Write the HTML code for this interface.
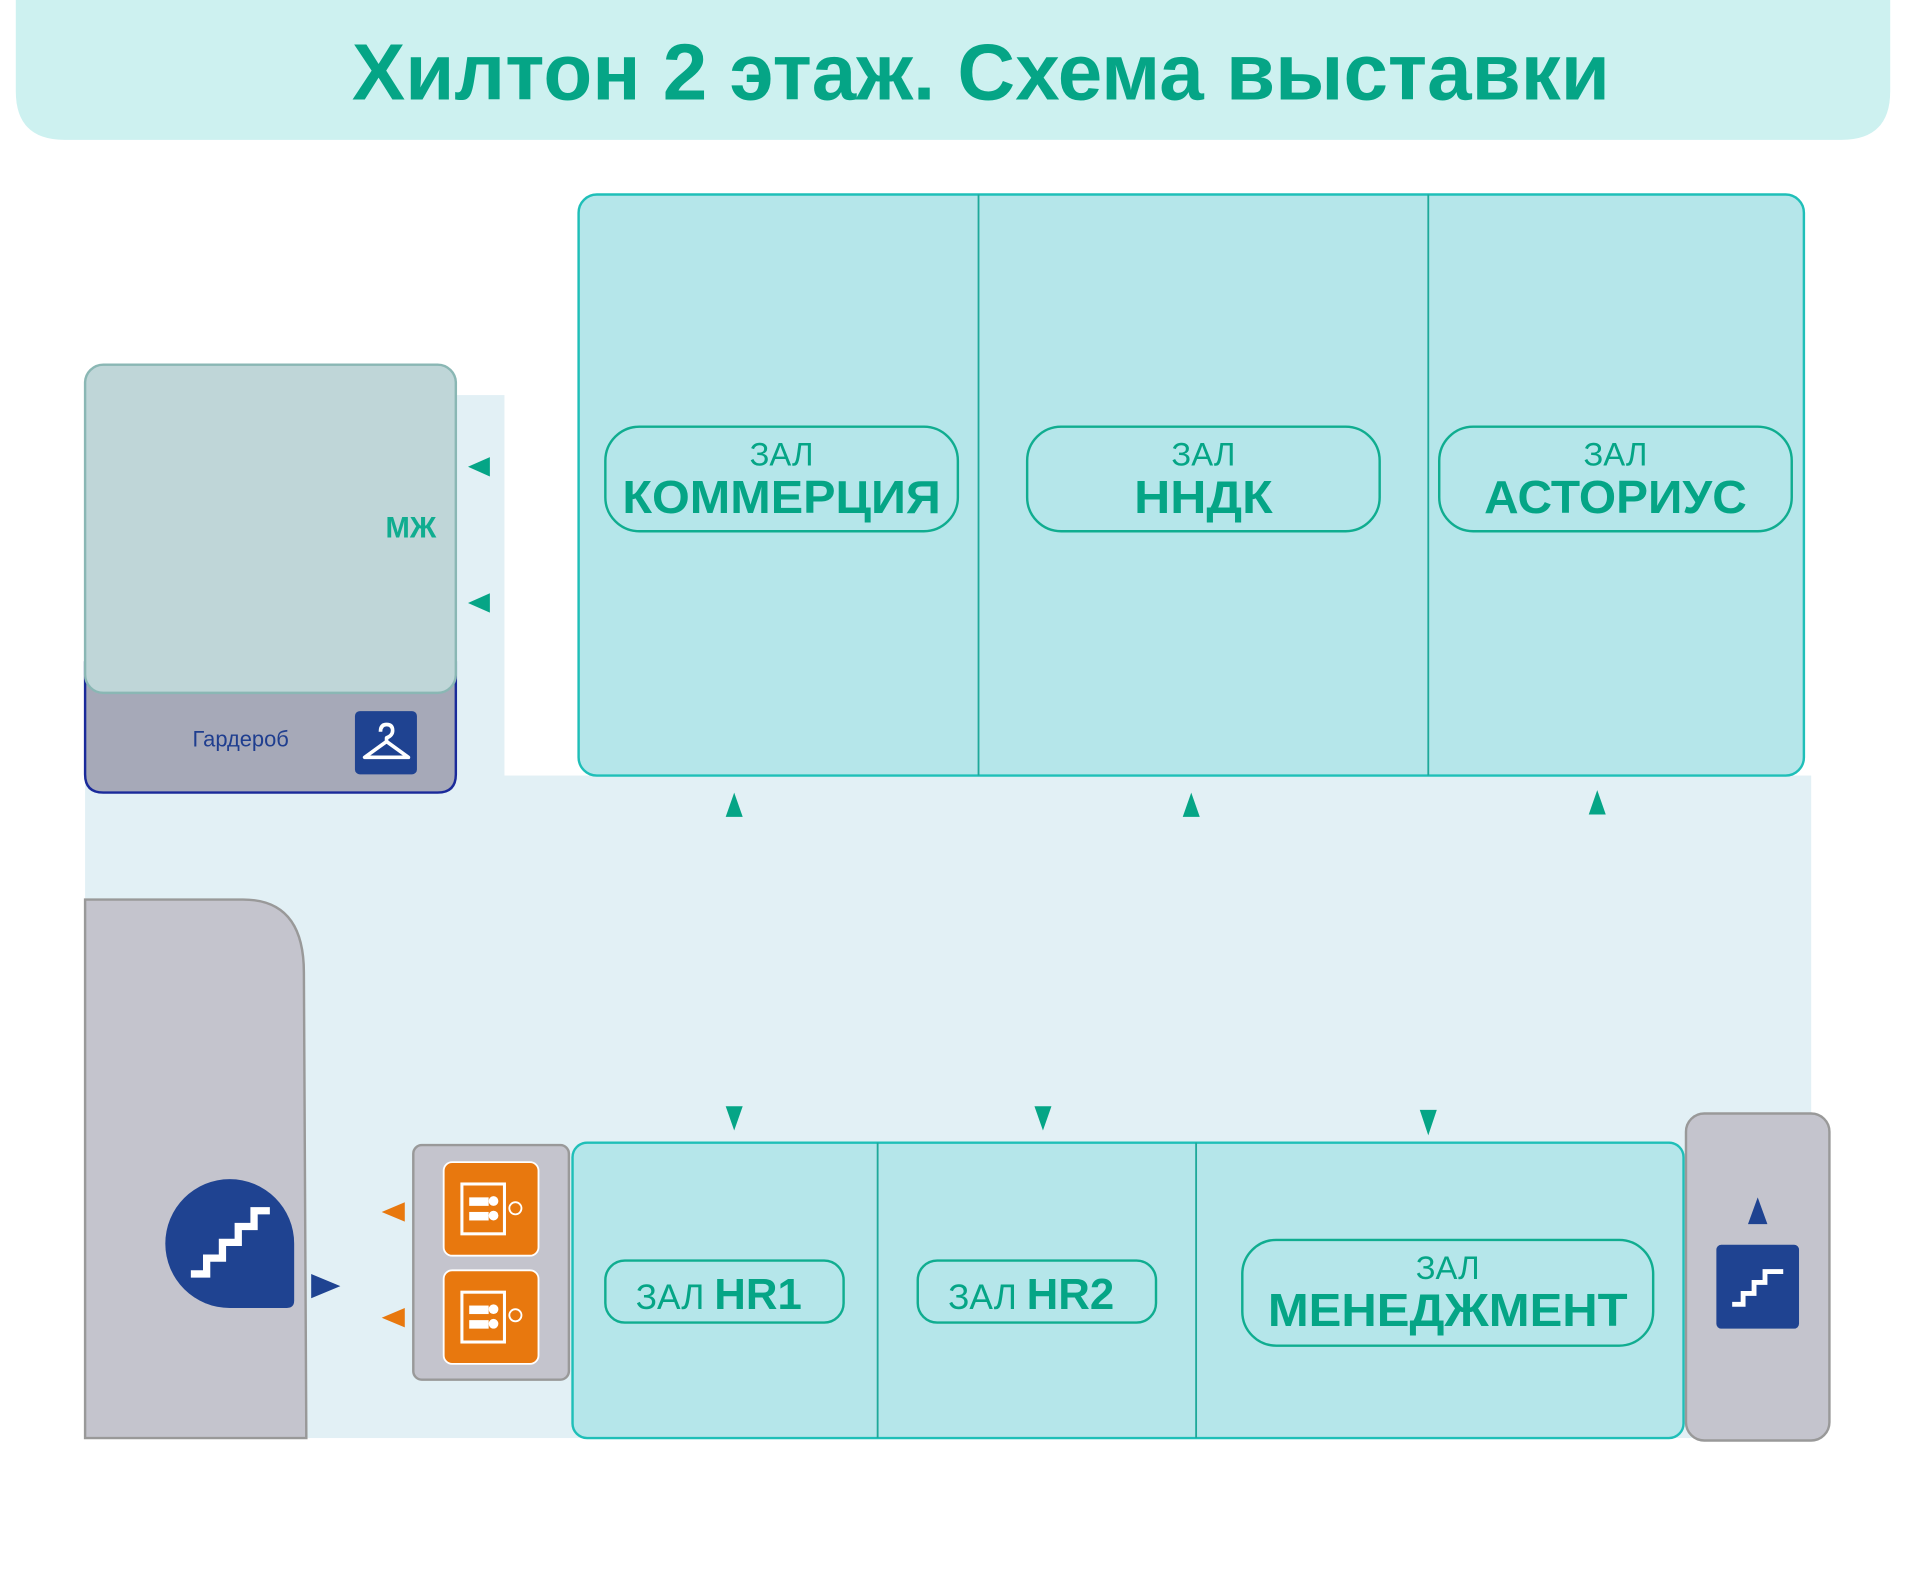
<!DOCTYPE html>
<html><head><meta charset="utf-8"><style>html,body{margin:0;padding:0;background:#fff}svg{display:block}</style></head>
<body>
<svg width="1906" height="1573" viewBox="0 0 1568 1294" xmlns="http://www.w3.org/2000/svg" font-family="'Liberation Sans', 'Noto Sans CJK SC', sans-serif">
<path d="M13,0 H1555 V75 Q1555,115 1515,115 H53 Q13,115 13,75 Z" fill="#cdf1f0"/>
<text x="807" y="82" text-anchor="middle" font-size="66" font-weight="bold" fill="#05a586" textLength="1035" lengthAdjust="spacingAndGlyphs">Хилтон 2 этаж. Схема выставки</text>
<rect x="370" y="325" width="45" height="315" fill="#e2f0f5"/>
<rect x="70" y="638" width="1420" height="545" fill="#e2f0f5"/>
<rect x="476" y="160" width="1008" height="478" rx="15" fill="#b5e6ea" stroke="#1fbfb8" stroke-width="2"/>
<line x1="805" y1="160" x2="805" y2="638" stroke="#1ea99a" stroke-width="1.5"/>
<line x1="1175" y1="160" x2="1175" y2="638" stroke="#1ea99a" stroke-width="1.5"/>
<g fill="none" stroke="#10ad90" stroke-width="2">
<rect x="498" y="351" width="290" height="86" rx="28"/>
<rect x="845" y="351" width="290" height="86" rx="28"/>
<rect x="1184" y="351" width="290" height="86" rx="28"/>
</g>
<g fill="#05a586" text-anchor="middle">
<text x="643" y="383" font-size="27">ЗАЛ</text>
<text x="643" y="422" font-size="38" font-weight="bold" textLength="262" lengthAdjust="spacingAndGlyphs">КОММЕРЦИЯ</text>
<text x="990" y="383" font-size="27">ЗАЛ</text>
<text x="990" y="422" font-size="38" font-weight="bold" textLength="114" lengthAdjust="spacingAndGlyphs">ННДК</text>
<text x="1329" y="383" font-size="27">ЗАЛ</text>
<text x="1329" y="422" font-size="38" font-weight="bold" textLength="216" lengthAdjust="spacingAndGlyphs">АСТОРИУС</text>
</g>
<path d="M70,545 H375 V637 Q375,652 360,652 H85 Q70,652 70,637 Z" fill="#a6a9b8" stroke="#1a2a9a" stroke-width="2"/>
<rect x="70" y="300" width="305" height="270" rx="15" fill="#bfd6d8" stroke="#8ab7b4" stroke-width="2"/>
<text x="338" y="442" text-anchor="middle" font-size="24" font-weight="bold" fill="#10ad90">МЖ</text>
<text x="198" y="614" text-anchor="middle" font-size="18" fill="#1f3e8f">Гардероб</text>
<rect x="292" y="585" width="51" height="52" rx="4" fill="#1f4391"/>
<path d="M313,602 Q313,596 318,596 Q323,596 323,601 Q323,605 318,607 L318,610 L300,623 L336,623 L318,610" fill="none" stroke="#fff" stroke-width="3" stroke-linejoin="round"/>
<g fill="#05a586">
<polygon points="385,384 403,376 403,392"/>
<polygon points="385,496 403,488 403,504"/>
<polygon points="604,652 597,672 611,672"/>
<polygon points="980,652 973,672 987,672"/>
<polygon points="1314,650 1307,670 1321,670"/>
<polygon points="604,930 597,910 611,910"/>
<polygon points="858,930 851,910 865,910"/>
<polygon points="1175,934 1168,913 1182,913"/>
</g>
<path d="M70,740 H200 Q250,740 250,800 L252,1183 H70 Z" fill="#c4c4cd" stroke="#999" stroke-width="2"/>
<path d="M189,970 A53,53 0 0 1 242,1023 V1070 Q242,1076 236,1076 H189 A53,53 0 0 1 189,970 Z" fill="#1f4391"/>
<polyline points="157,1048 170,1048 170,1035 183,1035 183,1022 196,1022 196,1009 209,1009 209,996 222,996" fill="none" stroke="#fff" stroke-width="6"/>
<polygon points="280,1058 256,1048 256,1068" fill="#1f4391"/>
<rect x="340" y="942" width="128" height="193" rx="7" fill="#c4c4cd" stroke="#999" stroke-width="2"/>
<g>
<rect x="365" y="956" width="78" height="77" rx="7" fill="#e8780e" stroke="#fff" stroke-width="1.5"/>
<rect x="365" y="1045" width="78" height="77" rx="7" fill="#e8780e" stroke="#fff" stroke-width="1.5"/>
<g fill="none" stroke="#fff" stroke-width="2.5">
<rect x="380" y="974" width="35" height="41"/>
<rect x="380" y="1063" width="35" height="41"/>
</g>
<g fill="#fff">
<rect x="386" y="985" width="16" height="7"/><circle cx="406" cy="988" r="4"/>
<rect x="386" y="997" width="16" height="7"/><circle cx="406" cy="1000" r="4"/>
<rect x="386" y="1074" width="16" height="7"/><circle cx="406" cy="1077" r="4"/>
<rect x="386" y="1086" width="16" height="7"/><circle cx="406" cy="1089" r="4"/>
</g>
<circle cx="424" cy="994" r="5" fill="none" stroke="#fff" stroke-width="1.5"/>
<circle cx="424" cy="1082" r="5" fill="none" stroke="#fff" stroke-width="1.5"/>
</g>
<g fill="#e8780e">
<polygon points="314,997 333,989 333,1005"/>
<polygon points="314,1084 333,1076 333,1092"/>
</g>
<rect x="471" y="940" width="914" height="243" rx="12" fill="#b5e6ea" stroke="#1fbfb8" stroke-width="2"/>
<line x1="722" y1="940" x2="722" y2="1183" stroke="#1ea99a" stroke-width="1.5"/>
<line x1="984" y1="940" x2="984" y2="1183" stroke="#1ea99a" stroke-width="1.5"/>
<g fill="none" stroke="#10ad90" stroke-width="2">
<rect x="498" y="1037" width="196" height="51" rx="16"/>
<rect x="755" y="1037" width="196" height="51" rx="16"/>
<rect x="1022" y="1020" width="338" height="87" rx="28"/>
</g>
<g fill="#05a586">
<text x="523" y="1077" font-size="29">ЗАЛ <tspan font-weight="bold" font-size="36">HR1</tspan></text>
<text x="780" y="1077" font-size="29">ЗАЛ <tspan font-weight="bold" font-size="36">HR2</tspan></text>
<text x="1191" y="1052" text-anchor="middle" font-size="27">ЗАЛ</text>
<text x="1191" y="1091" text-anchor="middle" font-size="38" font-weight="bold" textLength="296" lengthAdjust="spacingAndGlyphs">МЕНЕДЖМЕНТ</text>
</g>
<rect x="1387" y="916" width="118" height="269" rx="15" fill="#c4c4cd" stroke="#999" stroke-width="2"/>
<polygon points="1446,985 1438,1007 1454,1007" fill="#1f4391"/>
<rect x="1412" y="1024" width="68" height="69" rx="4" fill="#1f4391"/>
<polyline points="1425,1073 1434,1073 1434,1064 1443,1064 1443,1055 1452,1055 1452,1046 1467,1046" fill="none" stroke="#fff" stroke-width="4"/>
</svg>
</body></html>
